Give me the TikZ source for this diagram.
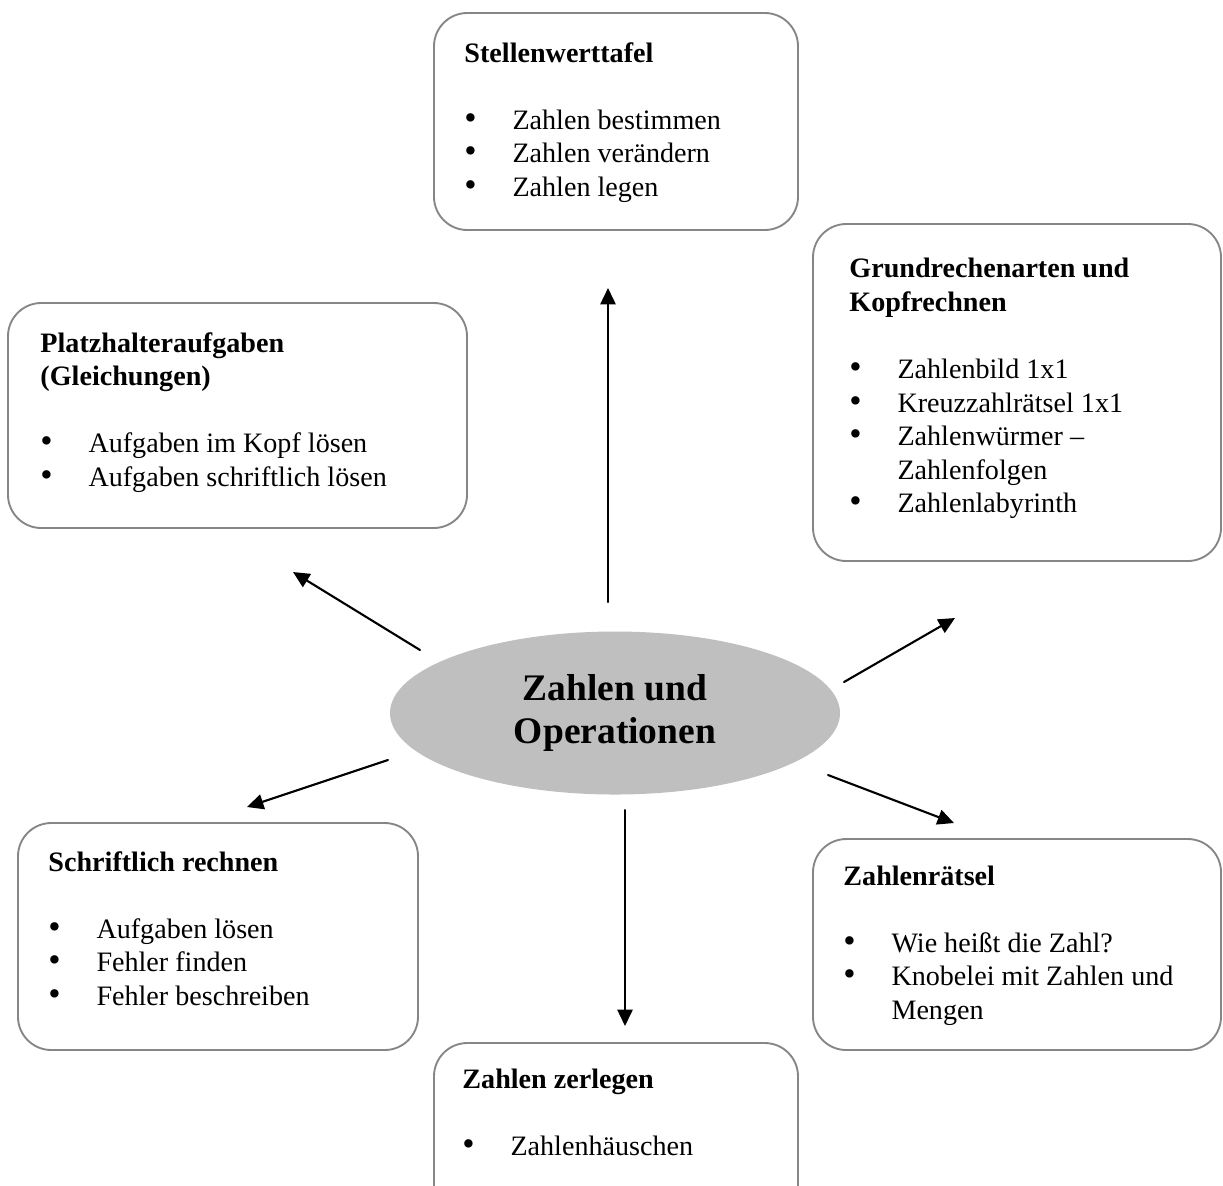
\documentclass[tikz,border=0pt]{standalone}
\usepackage{fontspec}
\setmainfont{Liberation Serif}
\usepackage{tikz}
\usetikzlibrary{arrows.meta,shapes.geometric}
\definecolor{rahmen}{RGB}{134,134,134}
\definecolor{kern}{RGB}{191,191,191}
\newcommand{\pnt}{\makebox[20.5pt][l]{\smash{\fontsize{15}{15}\selectfont\textbullet}}}

\begin{document}
\begin{tikzpicture}[x=0.015cm,y=-0.015cm,line cap=round,line join=round,
  kasten/.style={draw=rahmen,line width=0.8pt,rounded corners=0.5cm,inner sep=0pt},
  inhalt/.style={anchor=north west,align=left,inner sep=0pt,font=\fontsize{12}{14.3}\selectfont},
  pfeil/.style={line width=0.9pt,-{Triangle[length=7pt,width=6.5pt]}}]
\clip (0,0) rectangle (1223,1185);
% Mitte
\node [ellipse,fill=kern,minimum width=6.75cm,minimum height=2.445cm,inner sep=0pt,align=center,font=\fontsize{16}{18.4}\selectfont\bfseries] (zahlen) at (615,713) {Zahlen und\\Operationen};
% Kaesten
\node [kasten,minimum width=5.46cm,minimum height=3.255cm] (stellen) at (616,121.5) {};
\node [kasten,minimum width=6.12cm,minimum height=5.055cm] (grund) at (1017,392.5) {};
\node [kasten,minimum width=6.885cm,minimum height=3.375cm] (platz) at (237.5,415.5) {};
\node [kasten,minimum width=6.0cm,minimum height=3.405cm] (schrift) at (218,936.5) {};
\node [kasten,minimum width=6.12cm,minimum height=3.165cm] (raetsel) at (1017,944.5) {};
\node [kasten,minimum width=5.46cm,minimum height=2.805cm] (zerlegen) at (616,1136.5) {};
% Texte
\node [inhalt] (stellen-text) at (464,42) {\textbf{Stellenwerttafel}\\[14.3pt]
  \pnt Zahlen bestimmen\\
  \pnt Zahlen verändern\\
  \pnt Zahlen legen};
\node [inhalt] (grund-text) at (849,258) {\textbf{Grundrechenarten und}\\\textbf{Kopfrechnen}\\[14.3pt]
  \pnt Zahlenbild 1x1\\
  \pnt Kreuzzahlrätsel 1x1\\
  \pnt Zahlenwürmer –\\
  \hspace*{20.5pt}Zahlenfolgen\\
  \pnt Zahlenlabyrinth};
\node [inhalt] (platz-text) at (40,332) {\textbf{Platzhalteraufgaben}\\\textbf{(Gleichungen)}\\[14.3pt]
  \pnt Aufgaben im Kopf lösen\\
  \pnt Aufgaben schriftlich lösen};
\node [inhalt] (schrift-text) at (48,851) {\textbf{Schriftlich rechnen}\\[14.3pt]
  \pnt Aufgaben lösen\\
  \pnt Fehler finden\\
  \pnt Fehler beschreiben};
\node [inhalt] (raetsel-text) at (843,865) {\textbf{Zahlenrätsel}\\[14.3pt]
  \pnt Wie heißt die Zahl?\\
  \pnt Knobelei mit Zahlen und\\
  \hspace*{20.5pt}Mengen};
\node [inhalt] (zerlegen-text) at (462,1068) {\textbf{Zahlen zerlegen}\\[14.3pt]
  \pnt Zahlenhäuschen};
% Pfeile
\coordinate (s-stellen) at (608,602);
\coordinate (t-stellen) at (608,288);
\coordinate (s-platz) at (420,650);
\coordinate (t-platz) at (293,572);
\coordinate (s-grund) at (844,682);
\coordinate (t-grund) at (955,618);
\coordinate (s-schrift) at (388,760);
\coordinate (t-schrift) at (247,807);
\coordinate (s-raetsel) at (828,775);
\coordinate (t-raetsel) at (954,823);
\coordinate (s-zerlegen) at (625,810);
\coordinate (t-zerlegen) at (625,1026);
\draw [pfeil] (s-stellen) -- (t-stellen);
\draw [pfeil] (s-platz) -- (t-platz);
\draw [pfeil] (s-grund) -- (t-grund);
\draw [pfeil] (s-schrift) -- (t-schrift);
\draw [pfeil] (s-raetsel) -- (t-raetsel);
\draw [pfeil] (s-zerlegen) -- (t-zerlegen);
\end{tikzpicture}
\end{document}
